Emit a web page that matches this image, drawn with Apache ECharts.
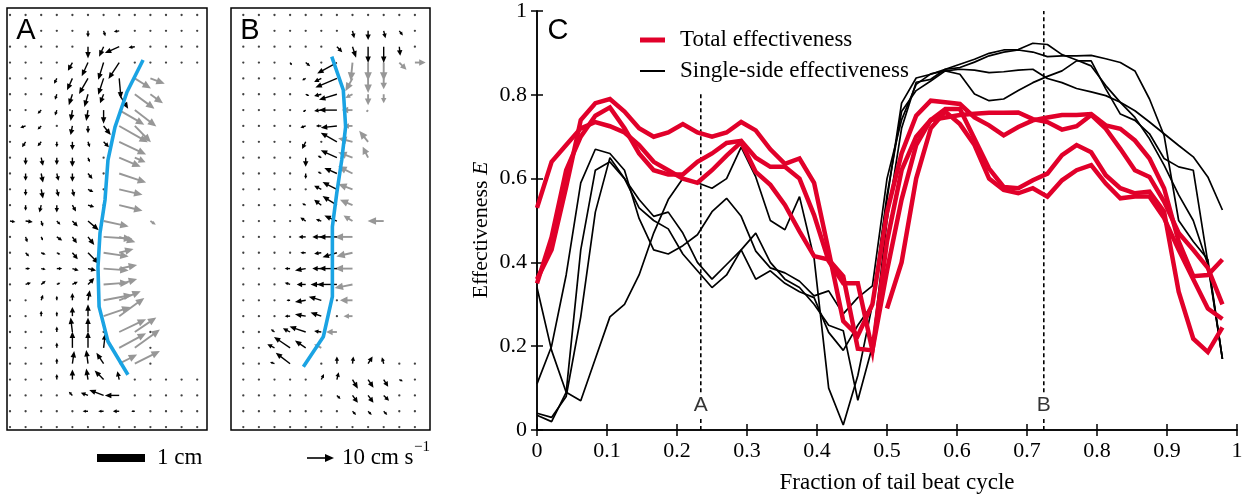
<!DOCTYPE html>
<html><head><meta charset="utf-8">
<script src="https://cdn.jsdelivr.net/npm/echarts@6/dist/echarts.min.js"></script>
<style>html,body{margin:0;padding:0;background:#fff}#c{width:1247px;height:501px}</style>
</head><body><div id="c"></div>
<script>
// ---------------- DATA ----------------
const sampleCount = 48;               // samples per tail-beat cycle
const xTickLabels = ['0','0.1','0.2','0.3','0.4','0.5','0.6','0.7','0.8','0.9','1'];
const yTickLabels = ['0','0.2','0.4','0.6','0.8','1'];
const markX = [0.234, 0.724];
const markNames = ['A', 'B'];
const markTop = [0.805, 1];
const markLabelY = 0.058;
const markGap = [0.032, 0.09];        // the label interrupts the dashed line

// Total effectiveness (red)
const redA = [0.36,0.43,0.58,0.74,0.78,0.79,0.76,0.72,0.70,0.71,0.73,0.71,0.70,0.71,0.735,0.715,0.67,0.635,0.648,0.59,0.427,0.26,0.225,0.30,
  0.52,0.66,0.75,0.786,0.782,0.778,0.746,0.727,0.703,0.723,0.739,0.746,0.752,0.752,0.754,0.727,0.719,0.691,0.648,0.577,0.45,0.367,0.37,0.407];
const redB = [0.35,0.46,0.62,0.70,0.75,0.77,0.72,0.66,0.62,0.61,0.61,0.64,0.66,0.685,0.69,0.65,0.628,0.628,0.60,0.513,0.403,0.35,0.35,0.19,
  0.45,0.62,0.70,0.74,0.746,0.752,0.755,0.757,0.757,0.758,0.742,0.735,0.717,0.725,0.752,0.719,0.671,0.62,0.604,0.545,0.47,0.43,0.387,0.30];
const redC = [0.53,0.64,0.68,0.72,0.735,0.725,0.71,0.68,0.64,0.62,0.60,0.59,0.62,0.655,0.687,0.616,0.585,0.537,0.474,0.415,0.407,0.367,0.194,0.19,
  0.38,0.55,0.68,0.74,0.766,0.766,0.695,0.624,0.58,0.577,0.596,0.612,0.656,0.68,0.663,0.608,0.577,0.565,0.569,0.521,0.33,0.218,0.186,0.245];
const redD = [null,null,null,null,null,null,null,null,null,null,null,null,null,null,null,null,null,null,null,null,null,null,null,null,
  0.29,0.40,0.60,0.72,0.76,0.73,0.68,0.60,0.573,0.565,0.577,0.557,0.596,0.62,0.632,0.588,0.553,0.557,0.557,0.506,0.43,0.36,0.29,0.265];

// Single-side effectiveness (black)
const blackA = [0.34,0.19,0.09,0.07,0.17,0.27,0.30,0.37,0.47,0.55,0.60,0.59,0.577,0.60,0.675,0.604,0.50,0.478,0.557,0.41,0.10,0.012,0.13,0.30,
  0.56,0.76,0.81,0.833,0.857,0.861,0.859,0.853,0.855,0.859,0.861,0.839,0.829,0.815,0.807,0.798,0.782,0.762,0.735,0.707,0.679,0.652,0.604,0.525];
const blackB = [0.11,0.20,0.37,0.59,0.67,0.66,0.62,0.505,0.43,0.42,0.44,0.466,0.521,0.553,0.51,0.427,0.387,0.375,0.355,0.32,0.332,0.277,0.316,0.344,
  0.60,0.74,0.825,0.85,0.857,0.849,0.802,0.786,0.79,0.81,0.829,0.844,0.857,0.881,0.881,0.814,0.754,0.739,0.707,0.648,0.628,0.62,0.40,0.17];
const blackC = [0.035,0.02,0.09,0.43,0.62,0.64,0.60,0.53,0.50,0.48,0.42,0.38,0.34,0.37,0.43,0.47,0.40,0.36,0.34,0.30,0.25,0.237,0.071,0.20,
  0.50,0.72,0.83,0.837,0.861,0.865,0.878,0.893,0.902,0.907,0.902,0.891,0.893,0.893,0.894,0.886,0.877,0.857,0.79,0.703,0.50,0.45,0.407,0.17];
const blackD = [0.04,0.03,0.08,0.27,0.52,0.65,0.60,0.55,0.51,0.52,0.47,0.40,0.36,0.395,0.43,0.36,0.38,0.35,0.33,0.316,0.233,0.19,0.25,0.30,
  0.55,0.78,0.84,0.849,0.861,0.873,0.885,0.899,0.907,0.908,0.923,0.92,0.896,0.883,0.869,0.822,0.782,0.746,0.695,0.632,0.561,0.50,0.395,0.17];

// Flow fields: [column, row, dx, dy] in grid units (dy positive = downward)
const gridColsA = 13, gridColsB = 12, gridRows = 27;
const arrowsA_black = [
 [5,1,0,0.35],[6,1,0.1,0.3],[7,1,-0.3,0.05],
 [5,2,0,0.65],[6,2,-0.25,0.55],[7,2,-0.8,0.35],[8,2,-0.35,0.05],
 [4,3,-0.25,0.45],[5,3,-0.35,0.75],[6,3,-0.3,0.95],[7,3,-0.6,0.9],
 [3,4,-0.15,0.3],[4,4,-0.3,0.65],[5,4,-0.5,0.85],[6,4,-0.3,0.9],[7,4,0.1,1.1],
 [3,5,-0.1,0.3],[4,5,-0.2,0.6],[5,5,-0.2,0.7],[6,5,-0.2,0.5],[7,5,0.5,0.8],
 [2,6,-0.2,0.2],[3,6,-0.1,0.3],[4,6,-0.1,0.6],[5,6,-0.1,0.6],[6,6,0,0.75],
 [1,7,-0.3,0.1],[2,7,-0.2,0.2],[4,7,-0.1,0.5],[5,7,0,0.4],[6,7,0.4,0.5],
 [1,8,-0.2,0.3],[2,8,-0.2,0.25],[3,8,0,0.3],[4,8,0,0.45],[5,8,0.1,0.3],[6,8,0.3,0.3],
 [1,9,0,0.4],[2,9,0.1,0.45],[3,9,0,0.4],[4,9,0,0.5],[5,9,0.1,0.25],
 [1,10,0,0.4],[2,10,0.1,0.5],[3,10,0.1,0.4],[4,10,0,0.45],[5,10,0.25,0.3],
 [1,11,0,0.35],[2,11,0.1,0.5],[3,11,0.1,0.4],[4,11,0.1,0.4],[5,11,0.3,0.15],
 [1,12,0,0.3],[2,12,-0.1,0.4],[3,12,0,0.4],[4,12,0.2,0.35],[5,12,0.35,0.1],
 [0,13,0.3,0.05],[1,13,0.4,0.05],[2,13,0.1,0.3],[3,13,0.2,0.2],[4,13,0.3,0.3],[5,13,0.6,0.5],
 [1,14,0.1,0.3],[2,14,0.1,0.2],[3,14,0.3,0.2],[4,14,0.25,0.35],[5,14,0.35,0.45],
 [1,15,0.2,0.2],[2,15,0.25,0.1],[3,15,0.2,0.1],[4,15,0.3,0.35],[5,15,0.6,0.6],
 [1,16,0.25,0],[2,16,0.25,0.05],[3,16,0.3,0],[4,16,0.35,0.1],[5,16,0.45,0.1],
 [1,17,0.3,-0.1],[2,17,0.25,-0.2],[3,17,0.2,-0.1],[4,17,0.3,-0.15],[5,17,0.35,-0.35],
 [2,18,0.1,-0.3],[3,18,0,-0.25],[4,18,0,-0.4],[5,18,0.1,-0.55],
 [2,19,0,-0.3],[3,19,0,-0.25],[4,19,0,-0.5],[5,19,0,-0.65],
 [3,20,0,-0.3],[4,20,-0.1,-0.8],[5,20,0,-0.8],
 [3,21,0,-0.3],[4,21,0,-0.9],[5,21,0,-0.9],[6,21,0.1,-0.8],
 [3,22,0,-0.3],[4,22,0.1,-0.7],[5,22,-0.1,-0.75],[6,22,-0.4,-0.6],
 [3,23,0,-0.3],[4,23,0,-0.55],[5,23,-0.1,-0.6],[6,23,-0.5,-0.5],[7,23,-0.1,-0.45],
 [4,24,-0.2,-0.2],[5,24,-0.4,-0.15],[6,24,-0.8,-0.3],[7,24,-0.8,0],
 [5,25,-0.3,0],[6,25,-0.3,0],[7,25,-0.35,0],[8,25,-0.2,0]
];
const arrowsA_gray = [
 [8,4,0.9,0.55],[9,4,0.8,0.3],[8,5,1.1,0.8],[9,5,0.7,0.5],
 [7,6,1.4,0.8],[8,6,1.2,0.9],[7,7,1.6,0.9],[8,7,0.9,0.9],[7,8,1.5,0.7],
 [7,9,1.2,0.5],[8,9,0.6,0.25],[7,10,1.5,0.5],[7,11,1.3,0.3],[7,12,1.3,0.3],
 [6,13,1.4,0.3],[9,13,0.3,0.2],[6,14,1.6,0.1],[7,14,0.9,0.3],[6,15,1.4,0.2],[7,15,0.8,-0.2],
 [6,16,1.4,0.1],[7,16,1.0,-0.2],[6,17,1.4,-0.1],[7,17,1.0,-0.3],[6,18,1.6,-0.3],[7,18,1.2,-0.5],
 [6,19,1.5,-0.5],[7,19,1.4,-1.0],[7,20,1.5,-0.7],[8,20,1.2,-0.8],[7,21,1.5,-0.8],[8,21,1.4,-1.0],
 [7,22,1.0,-0.5],[8,22,1.4,-0.7]
];
const arrowsB_black = [
 [7,1,0.1,0.4],[8,1,0,0.5],[9,1,0.1,0.4],[10,1,0.2,0.25],
 [6,2,0.3,0.3],[7,2,0.2,0.6],[8,2,0,0.9],[9,2,0,0.9],[10,2,0.05,0.5],
 [3,3,0.1,0.15],[4,3,0.25,0.2],[6,3,-1.1,0.6],
 [4,4,-0.2,0.1],[5,4,-0.4,0.2],[6,4,-1.2,0.5],
 [4,5,0.2,0.1],[5,5,-0.4,0.1],[6,5,-1.0,0.3],
 [4,6,-0.15,0.1],[5,6,-0.4,0.05],[6,6,-1.0,0],
 [4,7,-0.3,0.1],[5,7,-0.3,0],[6,7,-0.9,0.1],
 [4,8,-0.2,0.4],[6,8,-0.9,-0.5],
 [4,9,0,0.5],[5,9,-0.2,-0.1],[6,9,-0.9,-0.4],
 [4,10,0,0.3],[5,10,-0.2,-0.1],[6,10,-0.7,-0.3],
 [5,11,-0.4,-0.2],[6,11,-0.8,-0.4],
 [4,12,-0.2,-0.1],[5,12,-0.4,-0.3],[6,12,-0.8,-0.5],
 [4,13,-0.3,-0.2],[5,13,-0.3,-0.1],[6,13,-0.7,-0.3],
 [4,14,-0.4,0],[5,14,-0.5,0],[6,14,-1.0,0],
 [4,15,-0.3,0],[5,15,-0.4,0.05],[6,15,-0.8,0.25],
 [3,16,-0.3,0],[4,16,-0.6,0.1],[5,16,-0.5,0],[6,16,-1.0,0],
 [3,17,-0.3,-0.1],[4,17,-0.5,0],[5,17,-0.6,0],[6,17,-1.1,0],
 [3,18,-0.2,0],[4,18,-0.6,0.1],[5,18,-0.7,-0.2],
 [3,19,-0.3,0],[4,19,-0.6,-0.1],[5,19,-0.6,-0.2],
 [2,20,-0.2,-0.15],[3,20,-0.4,-0.2],[4,20,-0.9,-0.3],[5,20,-0.4,-0.05],
 [2,21,-0.4,-0.2],[3,21,-0.9,-0.6],[4,21,-0.6,-0.4],
 [2,22,-0.25,-0.1],[3,22,-0.8,-0.6],[6,22,0,-0.4],[7,22,0.05,-0.4],[8,22,0.25,-0.4],[9,22,-0.1,-0.35],
 [5,23,0.15,-0.3],[6,23,0.1,-0.4],[7,23,0.3,0.5],[8,23,0.3,0.45],[9,23,0.25,0.4],[10,23,0.2,0.1],
 [6,24,0.2,0.2],[7,24,0.3,0.4],[8,24,0.3,0.4],[9,24,0.3,0.3],
 [7,25,0.2,0.2],[8,25,0.2,0.2],[9,25,0.2,0.2]
];
const arrowsB_gray = [
 [7,3,-0.1,1.0],[8,3,0,1.0],[9,3,0,1.0],[10,3,0.4,0.4],[11,3,0.6,0],
 [7,4,-0.4,0.7],[8,4,0,0.8],[9,4,0,0.6],[7,5,-0.4,0.2],[8,5,0,0.6],[9,5,0,0.5],
 [7,6,-0.6,0],[8,6,-0.1,0.1],[7,7,-0.5,0],[7,8,-0.8,-0.2],[8,8,-0.5,-0.6],
 [7,9,-0.8,-0.3],[8,9,-0.3,-0.6],[7,10,-0.8,-0.4],[7,11,-0.8,-0.3],[7,12,-0.7,-0.3],
 [7,13,-0.5,-0.3],[9,13,-0.9,0],[7,14,-1.0,0],[7,15,-0.9,0.2],[7,16,-1.0,0],
 [7,17,-1.0,0.2],[7,18,-0.7,0],[7,19,-0.5,0],[6,20,-0.6,0],[5,21,-0.4,-0.2]
];
// empty regions of the measurement grid: [rowFrom,rowTo,colFrom,colTo]
const maskA = [[1,1,0,1],[4,22,10,12],[6,19,8,9],[13,19,7,7]];
const maskB = [[1,1,0,1],[4,21,8,11],[4,19,7,7],[20,21,6,7]];
// body midlines [column,row]
const bodyA = [[8.53,2.84],[7.5,4.86],[6.73,7.07],[6.28,9.15],[6.09,11.67],[5.77,13.75],[5.64,15.9],[5.71,18.4],[6.28,20.6],[7.56,22.7]];
const bodyB = [[5.67,2.63],[6.41,4.73],[6.56,7.05],[6.31,9.15],[5.99,11.25],[5.71,13.36],[5.71,15.46],[5.71,17.77],[5.13,20.3],[3.85,22.19]];

// ---------------- BUILD ----------------
const SERIF = "'Liberation Serif','Times New Roman',serif";
const SANS = "'Liberation Sans',Arial,sans-serif";
const RED = '#E1002A', BLUE = '#1AA3E3', GRAY = '#979797';
const arrowScale = 1.15;              // drawing scale of the vectors
const xs = Array.from({length: sampleCount}, (_, i) => i / sampleCount);
const pairs = v => v.map((y, i) => [xs[i], y]).filter(p => p[1] !== null);

function dotsFor(cols, mask, lists) {
  const used = new Set();
  lists.forEach(l => l.forEach(a => used.add(a[0] + ',' + a[1])));
  const out = [];
  for (let r = 0; r < gridRows; r++) for (let c = 0; c < cols; c++) {
    if (used.has(c + ',' + r)) continue;
    if (mask.some(m => r >= m[0] && r <= m[1] && c >= m[2] && c <= m[3])) continue;
    out.push([c, r]);
  }
  return out;
}
function arrowRenderer(color, lw, headL, headW) {
  return function (params, api) {
    const c = api.value(0), r = api.value(1), dx = api.value(2) * arrowScale, dy = api.value(3) * arrowScale;
    const p0 = api.coord([c, r]), p1 = api.coord([c + dx, r + dy]);
    const vx = p1[0] - p0[0], vy = p1[1] - p0[1];
    const L = Math.sqrt(vx * vx + vy * vy);
    if (L < 1.5) return {type: 'circle', shape: {cx: p0[0], cy: p0[1], r: 1}, style: {fill: color}};
    const ux = vx / L, uy = vy / L;
    const hl = Math.min(headL, L * 0.6), hw = Math.min(headW, L * 0.6);
    const bx = p1[0] - ux * hl, by = p1[1] - uy * hl;
    return {type: 'group', children: [
      {type: 'line', shape: {x1: p0[0], y1: p0[1], x2: bx + ux, y2: by + uy}, style: {stroke: color, lineWidth: lw}},
      {type: 'polygon', shape: {points: [[p1[0], p1[1]], [bx - uy * hw / 2, by + ux * hw / 2], [bx + uy * hw / 2, by - ux * hw / 2]]}, style: {fill: color}}
    ]};
  };
}

// panel layout (pixels)
const gC = {left: 537, top: 8, width: 700, height: 422};
const gA = {left: 7, top: 8, width: 200, height: 422};
const gB = {left: 231, top: 8, width: 199, height: 422};
const colStep = 15.6, rowStep = 15.85, rowOrigin = 15, colOriginA = 10, colOriginB = 243.3;
const rowMin = (gA.top - rowOrigin) / rowStep, rowMax = (gA.top + gA.height - rowOrigin) / rowStep;

const chart = echarts.init(document.getElementById('c'), null, {renderer: 'canvas'});
const axisBase = {
  axisLine: {show: true, lineStyle: {color: '#000', width: 1.5}},
  axisTick: {show: true, inside: true, length: 6, lineStyle: {color: '#000', width: 1.5}},
  splitLine: {show: false}
};
const hidden = {show: false};

const series = [];
[blackA, blackB, blackC, blackD].forEach(d => series.push({
  type: 'line', name: 'Single-side effectiveness', data: pairs(d), xAxisIndex: 0, yAxisIndex: 0,
  symbol: 'none', lineStyle: {color: '#000', width: 1.7}, z: 3, silent: true
}));
[redA, redB, redC, redD].forEach(d => series.push({
  type: 'line', name: 'Total effectiveness', data: pairs(d), xAxisIndex: 0, yAxisIndex: 0,
  symbol: 'none', lineStyle: {color: RED, width: 4.5, join: 'miter'}, z: 4, silent: true
}));
markX.forEach((x, k) => {
  [[0, markGap[0]], [markGap[1], markTop[k]]].forEach(seg => series.push({
    type: 'line', data: [[x, seg[0]], [x, seg[1]]], xAxisIndex: 0, yAxisIndex: 0, symbol: 'none',
    lineStyle: {color: '#000', width: 1.6, type: [4, 3]}, z: 2, silent: true
  }));
});
series.push({
  type: 'scatter', xAxisIndex: 0, yAxisIndex: 0, symbolSize: 1, z: 10,
  itemStyle: {color: 'rgba(0,0,0,0)'},
  data: markX.map((x, k) => [x, markLabelY, markNames[k]]),
  label: {show: true, position: 'inside', formatter: p => p.value[2], fontFamily: SANS, fontSize: 21, color: '#000'}
});
// flow fields (panel A uses axes #2, panel B axes #3)
[[2, arrowsA_black, arrowsA_gray, maskA, gridColsA, bodyA], [3, arrowsB_black, arrowsB_gray, maskB, gridColsB, bodyB]].forEach(([ai, blk, gry, mask, cols, body]) => {
  series.push({type: 'scatter', xAxisIndex: ai, yAxisIndex: ai, data: dotsFor(cols, mask, [blk, gry]),
    symbol: 'circle', symbolSize: 2.3, itemStyle: {color: '#111'}, z: 2, silent: true});
  series.push({type: 'custom', coordinateSystem: 'cartesian2d', xAxisIndex: ai, yAxisIndex: ai, data: gry,
    renderItem: arrowRenderer(GRAY, 1.9, 8.5, 7.5), z: 3, silent: true, clip: false});
  series.push({type: 'custom', coordinateSystem: 'cartesian2d', xAxisIndex: ai, yAxisIndex: ai, data: blk,
    renderItem: arrowRenderer('#000', 1.4, 6.5, 5.5), z: 3, silent: true, clip: false});
  series.push({type: 'line', xAxisIndex: ai, yAxisIndex: ai, data: body, symbol: 'none',
    lineStyle: {color: BLUE, width: 3.6}, z: 5, silent: true});
});

const option = {
  animation: false,
  backgroundColor: '#fff',
  grid: [
    Object.assign({containLabel: false}, gC),
    Object.assign({show: true, borderColor: '#000', borderWidth: 1.5, backgroundColor: 'transparent'}, gA),
    Object.assign({show: true, borderColor: '#000', borderWidth: 1.5, backgroundColor: 'transparent'}, gB)
  ],
  xAxis: [
    Object.assign({}, axisBase, {gridIndex: 0, type: 'value', min: 0, max: 1, interval: 0.1, position: 'bottom',
      axisLabel: {show: true, margin: 10, color: '#000', fontFamily: SERIF, fontSize: 22,
        formatter: (v) => xTickLabels[Math.round(v * 10)]}}),
    Object.assign({}, axisBase, {gridIndex: 0, type: 'value', min: 0, max: 1, interval: 0.1, position: 'top', axisLabel: hidden}),
    {gridIndex: 1, type: 'value', min: (gA.left - colOriginA) / colStep, max: (gA.left + gA.width - colOriginA) / colStep, show: false},
    {gridIndex: 2, type: 'value', min: (gB.left - colOriginB) / colStep, max: (gB.left + gB.width - colOriginB) / colStep, show: false}
  ],
  yAxis: [
    Object.assign({}, axisBase, {gridIndex: 0, type: 'value', min: 0, max: 1, interval: 0.2, position: 'left',
      axisLabel: {show: true, margin: 10, color: '#000', fontFamily: SERIF, fontSize: 22,
        formatter: (v) => yTickLabels[Math.round(v * 5)]}}),
    Object.assign({}, axisBase, {gridIndex: 0, type: 'value', min: 0, max: 1, interval: 0.2, position: 'right', axisLabel: hidden}),
    {gridIndex: 1, type: 'value', inverse: true, min: rowMin, max: rowMax, show: false},
    {gridIndex: 2, type: 'value', inverse: true, min: rowMin, max: rowMax, show: false}
  ],
  series: series,
  graphic: [
    {type: 'text', x: 26, y: 31, style: {text: 'A', font: '29px ' + SANS, fill: '#000', align: 'center', verticalAlign: 'middle'}, z: 20},
    {type: 'text', x: 250, y: 31, style: {text: 'B', font: '29px ' + SANS, fill: '#000', align: 'center', verticalAlign: 'middle'}, z: 20},
    {type: 'text', x: 558, y: 31, style: {text: 'C', font: '29px ' + SANS, fill: '#000', align: 'center', verticalAlign: 'middle'}, z: 20},
    // legend
    {type: 'line', shape: {x1: 640, y1: 40, x2: 665, y2: 40}, style: {stroke: RED, lineWidth: 5}, z: 20},
    {type: 'text', x: 680, y: 40, style: {text: 'Total effectiveness', font: '23px ' + SERIF, fill: '#000', align: 'left', verticalAlign: 'middle'}, z: 20},
    {type: 'line', shape: {x1: 640, y1: 71, x2: 665, y2: 71}, style: {stroke: '#000', lineWidth: 2}, z: 20},
    {type: 'text', x: 680, y: 71, style: {text: 'Single-side effectiveness', font: '23px ' + SERIF, fill: '#000', align: 'left', verticalAlign: 'middle'}, z: 20},
    // axis titles
    {type: 'text', x: 897, y: 483, style: {text: 'Fraction of tail beat cycle', font: '23px ' + SERIF, fill: '#000', align: 'center', verticalAlign: 'middle'}, z: 20},
    {type: 'text', x: 481, y: 230, rotation: Math.PI / 2, style: {text: '{a|Effectiveness }{b|E}', fill: '#000', align: 'center', verticalAlign: 'middle',
      rich: {a: {font: '22px ' + SERIF}, b: {font: 'italic 22px ' + SERIF}}}, z: 20},
    // scale bars
    {type: 'rect', shape: {x: 97, y: 454, width: 48, height: 8}, style: {fill: '#000'}, z: 20},
    {type: 'text', x: 157, y: 458, style: {text: '1 cm', font: '23px ' + SERIF, fill: '#000', align: 'left', verticalAlign: 'middle'}, z: 20},
    {type: 'line', shape: {x1: 307, y1: 458, x2: 326, y2: 458}, style: {stroke: '#000', lineWidth: 1.6}, z: 20},
    {type: 'polygon', shape: {points: [[334, 458], [325, 454], [325, 462]]}, style: {fill: '#000'}, z: 20},
    {type: 'text', x: 342, y: 458, style: {text: '10 cm s', font: '23px ' + SERIF, fill: '#000', align: 'left', verticalAlign: 'middle'}, z: 20},
    {type: 'text', x: 414, y: 447, style: {text: '−1', font: '15px ' + SERIF, fill: '#000', align: 'left', verticalAlign: 'middle'}, z: 20}
  ]
};
chart.setOption(option);
</script></body></html>
